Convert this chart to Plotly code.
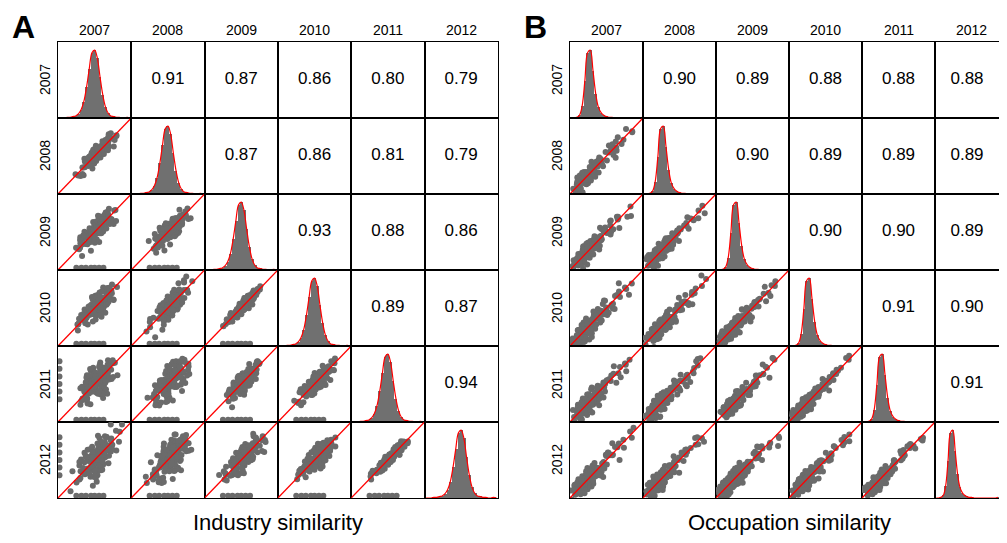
import plotly.graph_objects as go

W, H = 1007, 543
OFF = 8
FW, FH = W - 2 * OFF, H - 2 * OFF
years = ["2007", "2008", "2009", "2010", "2011", "2012"]
corrA = [[None, 0.91, 0.87, 0.86, 0.80, 0.79],
         [None, None, 0.87, 0.86, 0.81, 0.79],
         [None, None, None, 0.93, 0.88, 0.86],
         [None, None, None, None, 0.89, 0.87],
         [None, None, None, None, None, 0.94],
         [None] * 6]
corrB = [[None, 0.90, 0.89, 0.88, 0.88, 0.88],
         [None, None, 0.90, 0.89, 0.89, 0.89],
         [None, None, None, 0.90, 0.90, 0.89],
         [None, None, None, None, 0.91, 0.90],
         [None, None, None, None, None, 0.91],
         [None] * 6]
histA = [0, 0, 0, 1, 1, 2, 3, 6, 12, 24, 45, 72, 96, 100, 88, 60, 34, 16, 7, 3, 2, 1, 1, 0, 0, 1, 0]
histB = [0, 0, 1, 4, 18, 55, 96, 100, 70, 36, 16, 8, 4, 2, 1, 1, 0, 0, 0, 0, 0, 0, 0, 0, 0, 0, 1]
baseA = [0.32, 0.41, 0.45, 0.48, 0.52, 0.55, 0.58, 0.62, 0.66, 0.70, 0.36, 0.44, 0.50, 0.53, 0.57,
         0.60, 0.64, 0.47, 0.51, 0.54, 0.39, 0.43, 0.49, 0.56, 0.59, 0.61, 0.68, 0.72, 0.46, 0.50,
         0.53, 0.57, 0.63, 0.42, 0.48, 0.55, 0.58, 0.65, 0.75, 0.28, 0.52, 0.47, 0.60, 0.54, 0.38]
noise = [0.1, -0.3, 0.5, -0.6, 0.2, 0.8, -0.1, -0.7, 0.4, 0.0, -0.4, 0.6, -0.2, 0.3, -0.8,
         0.7, -0.5, 0.9, -0.9, 0.1, 0.4, -0.2, 0.0, 0.5, -0.4, 0.2, -0.6, 0.3, 0.8, -0.7,
         0.6, -0.1, -0.3, 0.9, -0.8, 0.4, 0.1, -0.5, 0.2, 0.7, -0.2, 0.5, -0.6, 0.0, 0.3]
baseB = [0.08, 0.12, 0.15, 0.18, 0.20, 0.22, 0.25, 0.28, 0.31, 0.35, 0.10, 0.14, 0.17, 0.21, 0.24,
         0.27, 0.30, 0.16, 0.19, 0.23, 0.13, 0.26, 0.33, 0.38, 0.42, 0.46, 0.52, 0.58, 0.64, 0.70,
         0.11, 0.15, 0.20, 0.24, 0.29, 0.36, 0.44, 0.55, 0.80, 0.09, 0.18, 0.22, 0.26, 0.32, 0.40]
zerosA = [0.25, 0.32, 0.38, 0.45, 0.50, 0.56, 0.62]


def px(x):
    return (x - OFF) / FW


def py(y):
    return 1 - (y - OFF) / FH


fig = go.Figure()
layout = {}
ann = []
panels = [(58, 42, 73.3, 76, corrA, histA, baseA), (570, 42, 73.0, 76, corrB, histB, baseB)]
n = 0
for p, (L, T, cw, ch, corr, hist, base) in enumerate(panels):
    for r in range(6):
        for c in range(6):
            n += 1
            sfx = "" if n == 1 else str(n)
            x0 = px(L + c * cw); x1 = min(px(L + (c + 1) * cw), 1.0)
            y1 = py(T + r * ch); y0 = py(T + (r + 1) * ch)
            ax = dict(showline=True, mirror=True, linecolor="black", linewidth=1,
                      showticklabels=False, ticks="", showgrid=False, zeroline=False, fixedrange=True)
            layout["xaxis" + sfx] = dict(ax, anchor="y" + sfx, domain=[x0, x1])
            layout["yaxis" + sfx] = dict(ax, anchor="x" + sfx, domain=[y0, y1])
            xa, ya = "x" + sfx, "y" + sfx
            if c > r:
                fig.add_trace(go.Scatter(x=[0.5], y=[0.5], mode="text", text=[f"{corr[r][c]:.2f}"],
                                         textfont=dict(size=17, color="black"), xaxis=xa, yaxis=ya,
                                         showlegend=False, hoverinfo="skip"))
                layout["xaxis" + sfx]["range"] = [0, 1]
                layout["yaxis" + sfx]["range"] = [0, 1]
            elif c == r:
                xs = list(range(len(hist)))
                fig.add_trace(go.Bar(x=xs, y=hist, marker_color="#707070", marker_line_width=0,
                                     width=1, xaxis=xa, yaxis=ya, showlegend=False))
                fig.add_trace(go.Scatter(x=xs, y=hist, mode="lines", line=dict(color="red", width=1.2, shape="spline"),
                                         xaxis=xa, yaxis=ya, showlegend=False))
                layout["xaxis" + sfx]["range"] = [-0.5, len(hist) - 0.5]
                layout["yaxis" + sfx]["range"] = [0, 112]
            else:
                rho = corr[c][r]
                s = (1 - rho) * 1.3
                k = (r * 7 + c * 3) % len(noise)
                nz = noise[k:] + noise[:k]
                xs, ys = [], []
                for j, sh in enumerate([0, 11, 23]):
                    for i, b in enumerate(base):
                        xs.append(b + 0.5 * s * nz[(i + 5 + sh) % len(nz)])
                        ys.append(b + s * nz[(i + sh) % len(nz)] * (1 - 0.3 * j))
                if p == 0 and r >= 2:
                    xs += zerosA; ys += [0.03] * len(zerosA)
                if p == 0 and r >= 4 and c == 0:
                    xs += [0.02] * 6; ys += [0.3, 0.4, 0.5, 0.6, 0.7, 0.8]
                fig.add_trace(go.Scatter(x=xs, y=ys, mode="markers", marker=dict(color="#6b6b6b", size=6),
                                         xaxis=xa, yaxis=ya, showlegend=False, cliponaxis=True))
                fig.add_trace(go.Scatter(x=[0, 1], y=[0, 1], mode="lines", line=dict(color="red", width=1.3),
                                         xaxis=xa, yaxis=ya, showlegend=False))
                layout["xaxis" + sfx]["range"] = [0, 1]
                layout["yaxis" + sfx]["range"] = [0, 1]
    for i, yv in enumerate(years):
        ann.append(dict(x=px(L + (i + 0.5) * cw), y=py(30), xref="paper", yref="paper", text=yv,
                        xanchor="center", yanchor="middle",
                        showarrow=False, font=dict(size=14, color="black")))
        ann.append(dict(x=px(L - 13), y=py(T + (i + 0.5) * ch), xref="paper", yref="paper", text=yv,
                        xanchor="center", yanchor="middle",
                        textangle=-90, showarrow=False, font=dict(size=14, color="black")))
    ann.append(dict(x=px(L - 35), y=py(27), xref="paper", yref="paper", text="<b>" + "AB"[p] + "</b>",
                    xanchor="center", yanchor="middle",
                    showarrow=False, font=dict(size=32, color="black", family="Liberation Sans")))
    ann.append(dict(x=px(L + 3 * cw), y=py(522), xref="paper", yref="paper",
                    text=["Industry similarity", "Occupation similarity"][p],
                    xanchor="center", yanchor="middle",
                    showarrow=False, font=dict(size=22, color="black")))

fig.update_layout(**layout)
fig.update_layout(width=FW, height=FH, margin=dict(l=0, r=0, t=0, b=0), plot_bgcolor="white",
                  paper_bgcolor="white", annotations=ann, bargap=0,
                  font=dict(family="Liberation Sans"))
fig.write_html("out.html")
